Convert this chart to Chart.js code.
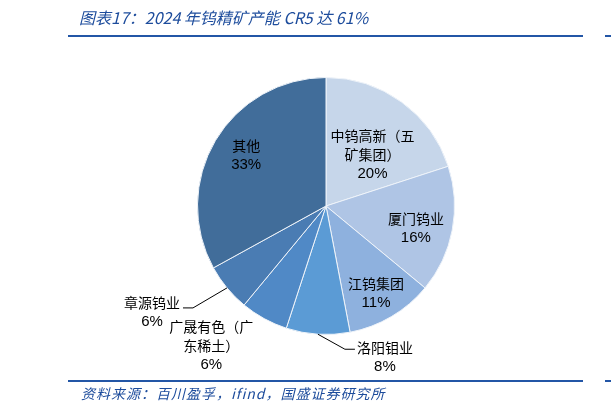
<!DOCTYPE html>
<html>
<head>
<meta charset="utf-8">
<script src="https://cdn.jsdelivr.net/npm/chart.js@4/dist/chart.umd.min.js"></script>
<style>
  body { margin: 0; background: #fff; }
  #wrap { position: relative; width: 611px; height: 412px; }
  #plot1 { position: absolute; left: 0; top: 0; }
  .titulo { position: absolute; left: 79px; top: 5px; font: italic 16px "Noto Sans CJK SC", "Liberation Sans", sans-serif; color: #1d4c9c; white-space: nowrap; }
  .fuente { position: absolute; left: 81px; top: 383px; font: italic 14px "Noto Sans CJK SC", "Liberation Sans", sans-serif; letter-spacing: 1px; color: #1d4c9c; white-space: nowrap; }
  .linea { position: absolute; height: 2px; background: #2356a6; }
</style>
</head>
<body>
<div id="wrap">
  <canvas id="plot1" width="611" height="412"></canvas>
  <div class="titulo">图表17：2024 年钨精矿产能 CR5 达 61%</div>
  <div class="linea" style="left:68px; top:35px; width:515px;"></div>
  <div class="linea" style="left:605px; top:35px; width:6px;"></div>
  <div class="linea" style="left:68px; top:380px; width:515px;"></div>
  <div class="linea" style="left:605px; top:380px; width:6px;"></div>
  <div class="fuente">资料来源：百川盈孚，ifind，国盛证券研究所</div>
</div>
<script>
// datos del grafico
const empresas = ['中钨高新（五矿集团）', '厦门钨业', '江钨集团', '洛阳钼业', '广晟有色（广东稀土）', '章源钨业', '其他']
const nombresEtiqueta = [['中钨高新（五', '矿集团）'], ['厦门钨业'], ['江钨集团'], ['洛阳钼业'], ['广晟有色（广', '东稀土）'], ['章源钨业'], ['其他']]
const capacidad = [20, 16, 11, 8, 6, 6, 33]
const colores = ['#c6d6ea', '#afc5e5', '#8eb1de', '#5b9bd5', '#5089c6', '#4a7cb3', '#416d9a']

// posicion de cada etiqueta: dentro (f = fraccion del radio) o fuera con linea guia
const posEtiquetas = [
    { f: 0.55, dx: 5, dy: 6 },
    { f: 0.72, dx: -1, dy: 5 },
    { f: 0.78, dx: -1, dy: 1 },
    { guia: { cx: 27, cy: 15, cola: 10, tx: 30, ty: 8 } },
    { f: 1.4, dx: -28, dy: -18 },
    { guia: { cx: -34, cy: 20, cola: -10, tx: -31, ty: 4 } },
    { f: 0.74, dx: 2, dy: -2 }
]

const etiquetasPlugin = {
    id: 'etiquetas',
    afterDatasetsDraw(chart) {
        const ctx = chart.ctx
        const arcos = chart.getDatasetMeta(0).data
        ctx.save()
        arcos.forEach((arco, i) => {
            const p = arco.getProps(['x', 'y', 'startAngle', 'endAngle', 'outerRadius'], true)
            const medio = (p.startAngle + p.endAngle) / 2
            const cfg = posEtiquetas[i]
            let bx, by
            if (cfg.guia) {
                const g = cfg.guia
                const ex = p.x + Math.cos(medio) * p.outerRadius
                const ey = p.y + Math.sin(medio) * p.outerRadius
                const kx = ex + g.cx, ky = ey + g.cy
                ctx.strokeStyle = '#000'
                ctx.lineWidth = 1
                ctx.beginPath()
                ctx.moveTo(ex, ey)
                ctx.lineTo(kx, ky)
                ctx.lineTo(kx + g.cola, ky)
                ctx.stroke()
                bx = kx + g.cola + g.tx
                by = ky + g.ty
            } else {
                bx = p.x + Math.cos(medio) * p.outerRadius * cfg.f + cfg.dx
                by = p.y + Math.sin(medio) * p.outerRadius * cfg.f + cfg.dy
            }
            const lineas = nombresEtiqueta[i].concat([capacidad[i] + '%'])
            const alto = 19
            let y0 = by - (lineas.length - 1) * alto / 2
            ctx.fillStyle = '#000'
            ctx.textAlign = 'center'
            ctx.textBaseline = 'middle'
            lineas.forEach((txt, j) => {
                if (j == lineas.length - 1) {
                    ctx.font = '15px "Liberation Sans", Arial, sans-serif'
                } else {
                    ctx.font = '14px "Noto Sans CJK SC", sans-serif'
                }
                ctx.fillText(txt, bx, y0 + j * alto)
            })
        })
        ctx.restore()
    }
}

let ctx = document.getElementById('plot1').getContext('2d')

let grafica1 = new Chart(ctx, {
    type: 'pie',
    data: {
        labels: empresas,
        datasets: [{
            data: capacidad,
            backgroundColor: colores,
            borderColor: '#eef3f9',
            borderWidth: 1
        }]
    },
    options: {
        responsive: false,
        animation: false,
        layout: { padding: { top: 77, bottom: 77, left: 197, right: 156 } },
        plugins: {
            legend: { display: false },
            tooltip: { enabled: false }
        }
    },
    plugins: [etiquetasPlugin]
})
</script>
</body>
</html>
